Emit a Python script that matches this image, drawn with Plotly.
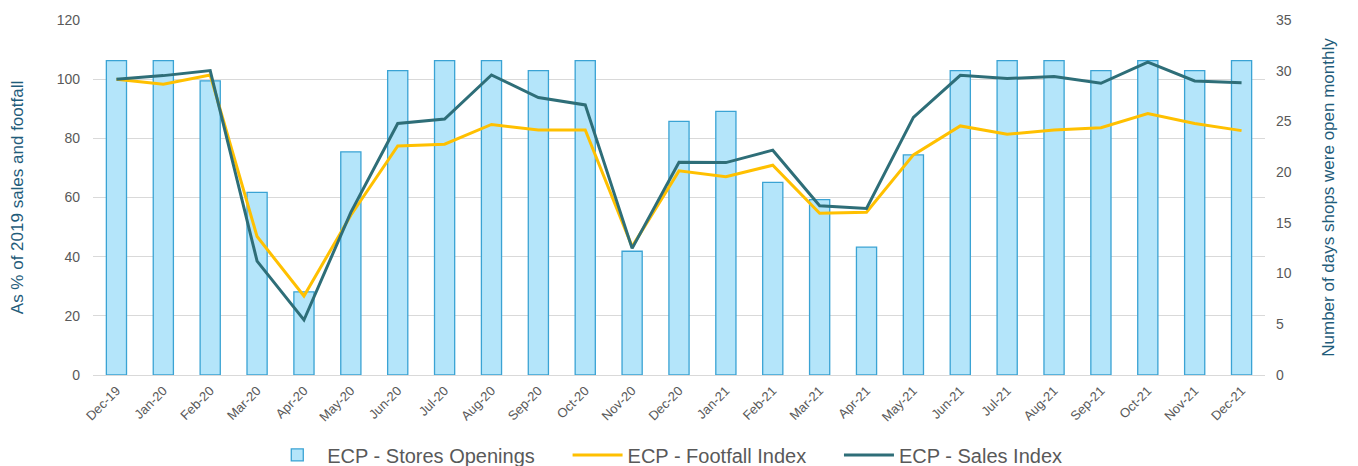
import plotly.graph_objects as go

months = ["Dec-19","Jan-20","Feb-20","Mar-20","Apr-20","May-20","Jun-20","Jul-20","Aug-20","Sep-20",
          "Oct-20","Nov-20","Dec-20","Jan-21","Feb-21","Mar-21","Apr-21","May-21","Jun-21","Jul-21",
          "Aug-21","Sep-21","Oct-21","Nov-21","Dec-21"]
store_days = [31, 31, 29, 18, 8.2, 22, 30, 31, 31, 30,
              31, 12.2, 25, 26, 19, 17.3, 12.6, 21.7, 30, 31,
              31, 30, 31, 30, 31]
footfall = [100, 98.3, 101.4, 46.8, 26.7, 54, 77.4, 78, 84.7, 82.8,
            82.8, 43.4, 69, 67, 70.9, 54.7, 55, 74.4, 84.2, 81.4,
            82.8, 83.6, 88.4, 85, 82.6]
sales = [100, 101.2, 102.9, 38.5, 18.6, 55, 85, 86.5, 101.4, 93.8,
         91.3, 42.8, 71.9, 71.8, 76, 57.2, 56.3, 87.1, 101.3, 100.2,
         100.9, 98.6, 105.8, 99.4, 98.8]

FONT = "Liberation Sans, Arial, sans-serif"
GRAY = "#595959"
TITLE = "#1f5c7a"
PAD = "\u00a0" * 5

fig = go.Figure()
fig.add_trace(go.Bar(x=months, y=store_days, name="ECP - Stores Openings" + PAD, yaxis="y",
                     marker=dict(color="#b4e5fa", line=dict(color="#3aa3d4", width=1.3))))
fig.add_trace(go.Scatter(x=months, y=footfall, name="ECP - Footfall Index" + PAD, yaxis="y2", mode="lines",
                         line=dict(color="#ffc000", width=3)))
fig.add_trace(go.Scatter(x=months, y=sales, name="ECP - Sales Index", yaxis="y2", mode="lines",
                         line=dict(color="#2e6e78", width=3)))

fig.update_layout(
    width=1350, height=458,
    margin=dict(l=85, r=93, t=12, b=91, autoexpand=False),
    paper_bgcolor="white", plot_bgcolor="white",
    font=dict(family=FONT, color=GRAY, size=13),
    bargap=0.57,
    showlegend=True,
    legend=dict(orientation="h", x=0.49, xanchor="center", y=-0.225, yanchor="middle",
                font=dict(size=20, color=GRAY), traceorder="normal",
                itemwidth=50, tracegroupgap=0),
    xaxis=dict(tickangle=-45, tickfont=dict(size=13, color=GRAY), showgrid=False,
               showline=True, linecolor="#d9d9d9", linewidth=1, ticks="", automargin=False,
               ticklabelstandoff=2),
    yaxis=dict(side="right", range=[0, 35], dtick=5, showgrid=False, zeroline=False,
               tickfont=dict(size=14, color=GRAY), automargin=False, ticklabelstandoff=10,
               title=dict(text="Number of days shops were open monthly",
                          font=dict(size=17, color=TITLE), standoff=31)),
    yaxis2=dict(side="left", overlaying="y", range=[0, 120], dtick=20, showgrid=True,
                gridcolor="#d9d9d9", gridwidth=1, zeroline=False,
                tickfont=dict(size=14, color=GRAY), automargin=False, ticklabelstandoff=12,
                title=dict(text="As % of 2019 sales and footfall",
                           font=dict(size=17, color=TITLE), standoff=40)),
)

fig.write_html("out.html")
